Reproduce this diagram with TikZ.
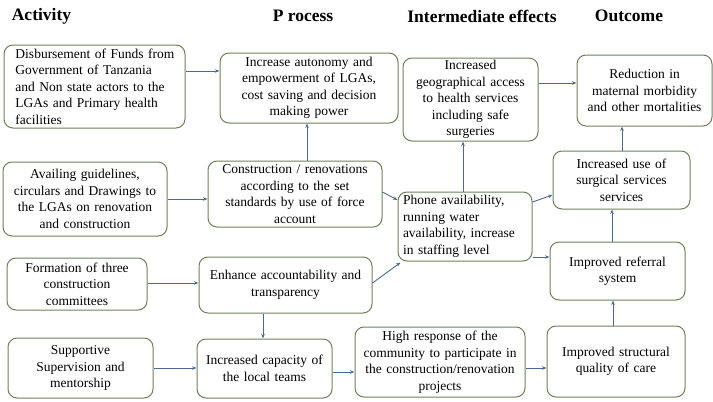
\documentclass[tikz,border=0pt]{standalone}
\usepackage{fontspec}
\setmainfont{Liberation Serif}
\usetikzlibrary{arrows.meta}
\definecolor{bcol}{HTML}{6F7F5C}
\definecolor{acol}{HTML}{4F6A8C}
\newcommand{\bodyfont}{\fontsize{13.5}{16.5}\selectfont}
\newcommand{\headfont}{\fontsize{17.5}{20}\selectfont\bfseries}
\tikzset{
  box/.style={draw=bcol, line width=1pt, rounded corners=9pt, align=center, font=\bodyfont, inner sep=0pt},
  head/.style={font=\headfont, inner sep=0pt},
  conn/.style={draw=acol, line width=0.9pt, -{Stealth[length=4.5pt,width=3.5pt]}}
}
\begin{document}
\begin{tikzpicture}[x=1pt,y=-1pt]
\useasboundingbox (0,0) rectangle (713,402);
% headings
\node[head] (h1) at (41.5,16) {Activity};
\node[head] (h2) at (303,16) {P rocess};
\node[head] (h3) at (482,16) {Intermediate effects};
\node[head] (h4) at (629,16) {Outcome};
% boxes
\node[box, minimum width=181pt, minimum height=83pt, text width=158pt, align=left] (disb) at (94.5,86.5)
 {\makebox[158pt][s]{Disbursement of Funds from}\\\makebox[158pt][s]{Government of Tanzania}\\\makebox[158pt][s]{and Non state actors to the}\\\makebox[158pt][s]{LGAs and Primary health}\\facilities};
\node[box, minimum width=178pt, minimum height=70pt, text width=170pt] (auto) at (309,88)
 {Increase autonomy and\\empowerment of LGAs,\\cost saving and decision\\making power};
\node[box, minimum width=135pt, minimum height=83pt, text width=130pt] (geo) at (470.5,99.5)
 {Increased\\geographical access\\to health services\\including safe\\surgeries};
\node[box, minimum width=135pt, minimum height=71pt, text width=130pt] (red) at (644.5,90.5)
 {Reduction in\\maternal morbidity\\and other mortalities};
\node[box, minimum width=164pt, minimum height=74pt, text width=160pt] (avail) at (85,199)
 {Availing guidelines,\\circulars and Drawings to\\the LGAs on renovation\\and construction};
\node[box, minimum width=174pt, minimum height=66pt, text width=170pt] (constr) at (295,194)
 {Construction / renovations\\according to the set\\standards by use of force\\account};
\node[box, minimum width=134pt, minimum height=69pt, text width=124pt, align=left] (phone) at (465,226.5)
 {Phone availability,\\running water\\availability, increase\\in staffing level};
\node[box, minimum width=137pt, minimum height=58pt, text width=130pt] (use) at (621.5,180)
 {Increased use of\\surgical services\\services};
\node[box, minimum width=135pt, minimum height=58pt, text width=130pt] (ref) at (617.5,271)
 {Improved referral\\system};
\node[box, minimum width=140pt, minimum height=52pt, text width=134pt] (form) at (77,284)
 {Formation of three\\construction\\committees};
\node[box, minimum width=173pt, minimum height=56pt, text width=170pt] (enh) at (285.5,285)
 {Enhance accountability and\\transparency};
\node[box, minimum width=145pt, minimum height=60pt, text width=140pt] (supp) at (80.5,368)
 {Supportive\\Supervision and\\mentorship};
\node[box, minimum width=135pt, minimum height=59pt, text width=130pt] (cap) at (264.5,368.5)
 {Increased capacity of\\the local teams};
\node[box, minimum width=170pt, minimum height=70pt, text width=166pt] (high) at (440,362)
 {High response of the\\community to participate in\\the construction/renovation\\projects};
\node[box, minimum width=138pt, minimum height=71pt, text width=134pt] (struct) at (616,361.5)
 {Improved structural\\quality of care};
% connectors
\draw[conn] (disb.east |- 0,71) -- (auto.west |- 0,71);
\draw[conn] (constr.north -| 307,0) -- (auto.south -| 307,0);
\draw[conn] (avail.east |- 0,199) -- (constr.west |- 0,199);
\draw[conn] (constr.east |- 0,192) -- (phone.west |- 0,200);
\draw[conn] (phone.north -| 463,0) -- (geo.south -| 463,0);
\draw[conn] (phone.east |- 0,202) -- (use.west |- 0,195);
\draw[conn] (phone.east |- 0,257) -- (ref.west |- 0,257);
\draw[conn] (enh.east |- 0,283) -- ([xshift=3pt,yshift=-1pt]phone.south west);
\draw[conn] (form.east |- 0,283) -- (enh.west |- 0,283);
\draw[conn] (enh.south -| 263,0) -- (cap.north -| 263,0);
\draw[conn] (supp.east |- 0,368) -- (cap.west |- 0,368);
\draw[conn] (cap.east |- 0,372) -- (high.west |- 0,372);
\draw[conn] (high.east |- 0,368) -- (struct.west |- 0,368);
\draw[conn] (struct.north -| 613,0) -- (ref.south -| 613,0);
\draw[conn] (ref.north -| 612,0) -- (use.south -| 612,0);
\draw[conn] (use.north -| 622,0) -- (red.south -| 622,0);
\draw[conn] (geo.east |- 0,83) -- (red.west |- 0,83);
\end{tikzpicture}
\end{document}
